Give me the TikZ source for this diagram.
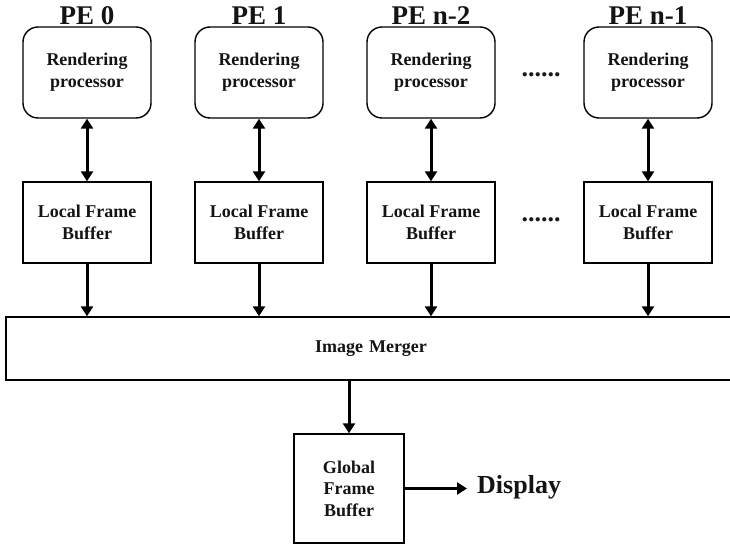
\documentclass[tikz,border=0pt]{standalone}
\usepackage{fontspec}
\setmainfont{Liberation Serif}
\usetikzlibrary{arrows.meta}
\begin{document}
\begin{tikzpicture}[x=1pt,y=-1pt,
  txt/.style={font=\bfseries\fontsize{18}{22}\selectfont, align=center, text=black!92},
  rp/.style={txt, draw, line width=1.4pt, rounded corners=15pt, minimum width=128pt, minimum height=91pt, inner sep=0pt},
  lfb/.style={txt, draw, line width=1.4pt, minimum width=128pt, minimum height=81pt, inner sep=0pt},
  pelabel/.style={font=\bfseries\fontsize{27}{27}\selectfont, text=black!92, inner sep=0pt},
  dotsl/.style={font=\bfseries\fontsize{26}{26}\selectfont, text=black!90, inner sep=0pt},
  conn/.style={line width=3pt, -{Triangle[length=10pt,width=12pt]}},
  bconn/.style={line width=3pt, {Triangle[length=10pt,width=12pt]}-{Triangle[length=10pt,width=12pt]}}
]
\useasboundingbox (0,0) rectangle (730,545);
% PE columns
\foreach \n/\x/\lab in {a/87/PE 0, b/259/PE 1, c/431/PE n-2, d/648/PE n-1}{
  \node[pelabel] (pe\n) at (\x,15.5) {\lab};
  \node[rp] (rp\n) at (\x,72.5) {Rendering\\processor};
  \node[lfb] (lfb\n) at (\x,222.5) {Local Frame\\Buffer};
}
\node[dotsl, anchor=base] (dots1) at (541,77) {......};
\node[dotsl, anchor=base] (dots2) at (541,222) {......};
% merger
\node[txt, draw, line width=1.4pt, minimum width=740pt, minimum height=63pt, inner sep=0pt, text width=740pt] (merger) at (376,348.5) {\hspace*{-10pt}Image Merger};
% global frame buffer
\node[txt, draw, line width=1.4pt, minimum width=110pt, minimum height=109pt, inner sep=0pt, font=\bfseries\fontsize{18}{21.5}\selectfont] (gfb) at (349,488.5) {Global\\Frame\\Buffer};
\node[font=\bfseries\fontsize{26}{26}\selectfont, text=black!92, anchor=west, inner sep=0pt] (disp) at (477,487) {Display};
% connectors
\foreach \n in {a,b,c,d}{
  \draw[bconn] (rp\n.south) -- (lfb\n.north);
  \draw[conn] (lfb\n.south) -- (lfb\n.south |- merger.north);
}
\draw[conn] (gfb.north |- merger.south) -- (gfb.north);
\draw[conn, shorten >=10pt] (gfb.east) -- (gfb.east -| disp.west);
\end{tikzpicture}
\end{document}
